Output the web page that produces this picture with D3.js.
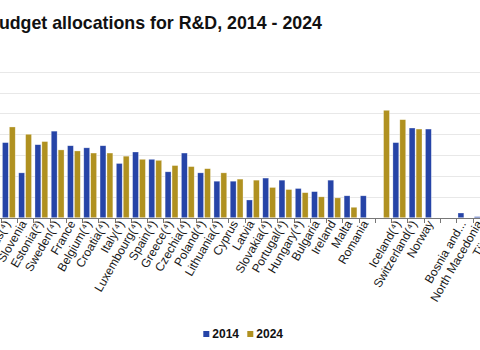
<!DOCTYPE html>
<html>
<head>
<meta charset="utf-8">
<script src="https://cdn.jsdelivr.net/npm/d3@7"></script>
<style>
  html, body { margin: 0; padding: 0; background: #fff; }
  svg { display: block; font-family: "Liberation Sans", Arial, sans-serif; }
</style>
</head>
<body>
<svg id="chart" width="480" height="350"></svg>
<script>
// ---- data ----
const categories = ["Netherlands(⁴)", "Slovenia", "Estonia(²)", "Sweden(⁴)", "France", "Belgium(⁴)", "Croatia(⁴)", "Italy(⁴)", "Luxembourg(⁴)", "Spain(⁴)", "Greece(⁴)", "Czechia(⁴)", "Poland(⁴)", "Lithuania(⁴)", "Cyprus", "Latvia", "Slovakia(⁴)", "Portugal(⁴)", "Hungary(⁴)", "Bulgaria", "Ireland", "Malta", "Romania", "", "Iceland(⁴)", "Switzerland(⁴)", "Norway", "", "Bosnia and...", "North Macedonia", "Türkiye"];
const series = ["2014", "2024"];
const values2014 = [0.72, 0.43, 0.70, 0.83, 0.69, 0.67, 0.69, 0.52, 0.63, 0.56, 0.44, 0.62, 0.43, 0.35, 0.35, 0.17, 0.38, 0.36, 0.28, 0.25, 0.36, 0.21, 0.21, null, 0.72, 0.86, 0.85, null, 0.045, 0.01, null];
const values2024 = [0.87, 0.80, 0.73, 0.65, 0.64, 0.62, 0.62, 0.59, 0.56, 0.55, 0.50, 0.49, 0.47, 0.43, 0.37, 0.36, 0.29, 0.27, 0.24, 0.20, 0.19, 0.10, null, 1.03, 0.94, 0.85, null, null, null, null, null];
const yTicks = [0, 0.2, 0.4, 0.6, 0.8, 1.0, 1.2, 1.4];
const title = "Government budget allocations for R&D, 2014 - 2024";
const colors = ["#2644A7", "#B09120"];

// ---- layout ----
const svg = d3.select("#chart");
const W = 480;
const step = 16.27;
const x0 = 0.7;
const idx = categories.map((d, i) => i);
const x = d3.scaleBand().domain(idx).range([x0, x0 + step * categories.length]).paddingInner(0).paddingOuter(0);
const xs = d3.scaleBand().domain(series).range([0, x.bandwidth()]).paddingInner(0.15).paddingOuter(0.25);
const y = d3.scaleLinear().domain([0, 1.4]).range([217.7, 71.7]);
const color = d3.scaleOrdinal().domain(series).range(colors);

// title
svg.append("text")
  .attr("x", 322).attr("y", 28.5)
  .attr("text-anchor", "end")
  .attr("font-size", 17.8).attr("font-weight", "bold").attr("fill", "#111")
  .text(title);

// gridlines
svg.append("g").selectAll("line").data(yTicks.slice(1)).join("line")
  .attr("x1", 0).attr("x2", W)
  .attr("y1", d => Math.round(y(d)) + 0.5).attr("y2", d => Math.round(y(d)) + 0.5)
  .attr("stroke", "#e8e8e8").attr("stroke-width", 1);

// bars
const rows = idx.map(i => ({ i, vals: [values2014[i], values2024[i]] }));
const groups = svg.append("g").selectAll("g").data(rows).join("g")
  .attr("transform", d => `translate(${x(d.i)},0)`);
groups.selectAll("rect")
  .data(d => series.map((s, k) => ({ s, v: d.vals[k] })).filter(e => e.v != null))
  .join("rect")
  .attr("x", d => xs(d.s))
  .attr("width", xs.bandwidth())
  .attr("y", d => y(d.v))
  .attr("height", d => y(0) - y(d.v))
  .attr("fill", d => color(d.s))
  .attr("stroke", "#ffffff").attr("stroke-opacity", 0.5).attr("stroke-width", 0.6);

// x axis baseline + ticks at band boundaries
const base = Math.round(y(0)) + 0.5;
svg.append("line").attr("x1", 0).attr("x2", W).attr("y1", base).attr("y2", base)
  .attr("stroke", "#777").attr("stroke-width", 1);
const tickPos = idx.map(i => x(i)).concat([x(idx[idx.length - 1]) + x.bandwidth()]);
svg.append("g").selectAll("line").data(tickPos).join("line")
  .attr("x1", d => Math.round(d) + 0.5).attr("x2", d => Math.round(d) + 0.5)
  .attr("y1", base).attr("y2", base + 4.5)
  .attr("stroke", "#777").attr("stroke-width", 1);

// x labels
svg.append("g").selectAll("text").data(idx).join("text")
  .attr("transform", i => `translate(${x(i) + x.bandwidth() / 2 + 2},${base + 5}) rotate(-60)`)
  .attr("text-anchor", "end")
  .attr("font-size", 12).attr("fill", "#1a1a1a")
  .text(i => categories[i]);

// legend
const legend = svg.append("g");
const lx = [203.3, 247.3];
series.forEach((s, k) => {
  legend.append("rect").attr("x", lx[k]).attr("y", 331).attr("width", 6).attr("height", 6).attr("fill", color(s));
  legend.append("text").attr("x", lx[k] + 9).attr("y", 337.5)
    .attr("font-size", 12).attr("font-weight", "bold").attr("fill", "#111").text(s);
});
</script>
</body>
</html>
